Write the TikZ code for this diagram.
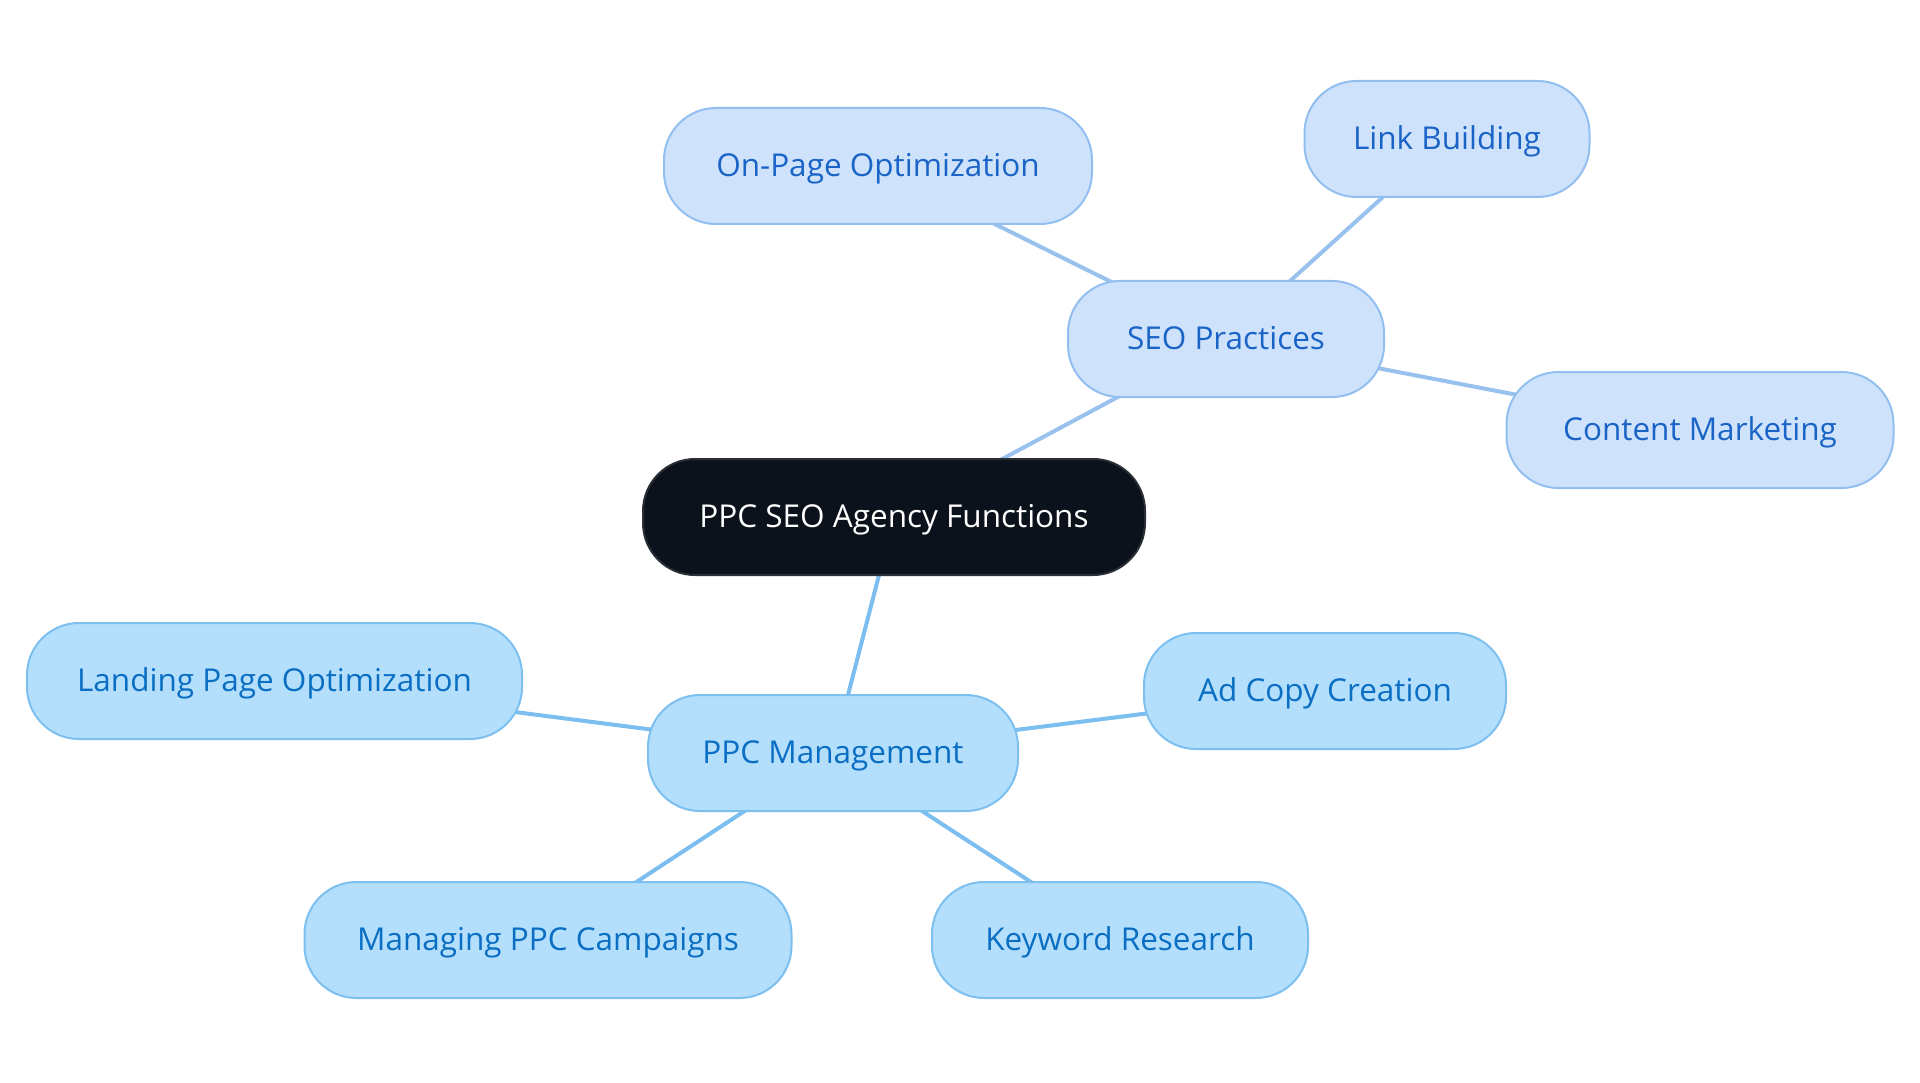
\documentclass[tikz,border=0pt]{standalone}
\usepackage{fontspec}
\setmainfont{Open Sans}
\usetikzlibrary{backgrounds}
\definecolor{seofill}{HTML}{CEE3FB}
\definecolor{seodraw}{HTML}{92BFF0}
\definecolor{seotext}{HTML}{1A63C7}
\definecolor{seoedge}{HTML}{98C1EE}
\definecolor{ppcfill}{HTML}{B3DFFD}
\definecolor{ppcdraw}{HTML}{7DC0F0}
\definecolor{ppctext}{HTML}{0A6EC2}
\definecolor{ppcedge}{HTML}{7CBEF0}
\definecolor{rootfill}{HTML}{0B121C}
\definecolor{rootdraw}{HTML}{2A2F36}
\begin{document}
\begin{tikzpicture}[x=1pt,y=-1pt,
  box/.style={rectangle, rounded corners=52pt, minimum height=116pt, line width=2pt, inner sep=0pt, text height=29pt, text depth=8pt, font=\fontsize{31.5}{36}\selectfont},
  rootbox/.style={box, fill=rootfill, draw=rootdraw, text=white},
  seobox/.style={box, fill=seofill, draw=seodraw, text=seotext},
  ppcbox/.style={box, fill=ppcfill, draw=ppcdraw, text=ppctext},
  seoline/.style={draw=seoedge, line width=4pt},
  ppcline/.style={draw=ppcedge, line width=4pt}]
\useasboundingbox (0,0) rectangle (1920,1083);
\node[rootbox, minimum width=502pt] (root) at (894,517) {PPC SEO Agency Functions};
\node[seobox, minimum width=316pt] (seo) at (1226,339) {SEO Practices};
\node[seobox, minimum width=428pt] (onpage) at (878,166) {On-Page Optimization};
\node[seobox, minimum width=285pt] (link) at (1447,139) {Link Building};
\node[seobox, minimum width=387pt] (content) at (1700,430) {Content Marketing};
\node[ppcbox, minimum width=370pt] (ppc) at (833,753) {PPC Management};
\node[ppcbox, minimum width=495pt] (landing) at (274.5,681) {Landing Page Optimization};
\node[ppcbox, minimum width=362pt] (adcopy) at (1325,691) {Ad Copy Creation};
\node[ppcbox, minimum width=487pt] (managing) at (548,940) {Managing PPC Campaigns};
\node[ppcbox, minimum width=376pt] (keyword) at (1120,940) {Keyword Research};
\begin{scope}[on background layer]
\draw[seoline] (root.center) -- (seo.center);
\draw[seoline] (seo.center) -- (onpage.center);
\draw[seoline] (seo.center) -- (link.center);
\draw[seoline] (seo.center) -- (content.center);
\draw[ppcline] (root.center) -- (ppc.center);
\draw[ppcline] (ppc.center) -- (landing.center);
\draw[ppcline] (ppc.center) -- (adcopy.center);
\draw[ppcline] (ppc.center) -- (managing.center);
\draw[ppcline] (ppc.center) -- (keyword.center);
\end{scope}
\end{tikzpicture}
\end{document}
